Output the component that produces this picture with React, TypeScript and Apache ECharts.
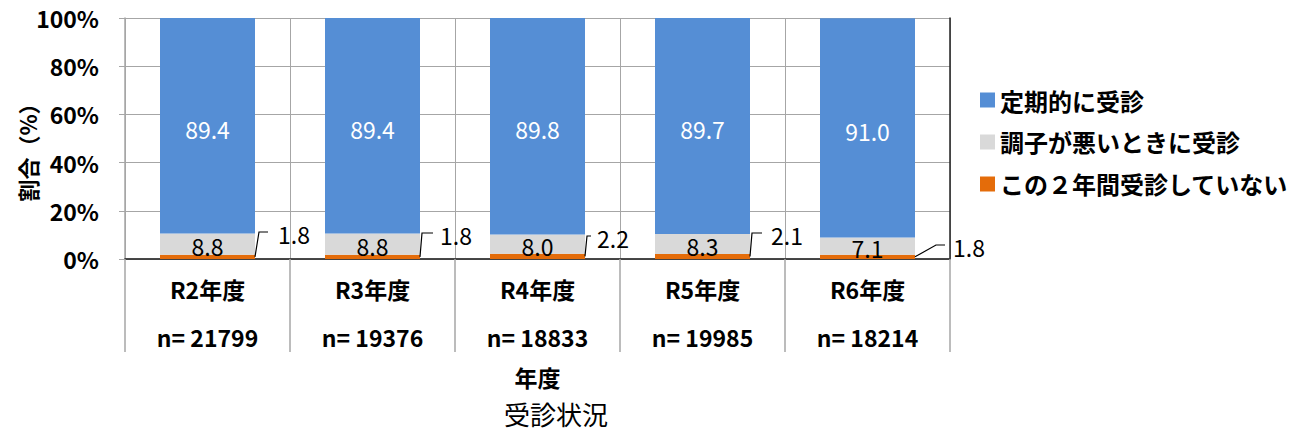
import React, { useEffect, useRef } from "react";
import * as echarts from "echarts";

const categories = ["R2年度", "R3年度", "R4年度", "R5年度", "R6年度"];
const nValues = [21799, 19376, 18833, 19985, 18214];
const regularValues = [89.4, 89.4, 89.8, 89.7, 91.0];
const unwellValues = [8.8, 8.8, 8.0, 8.3, 7.1];
const noVisitValues = [1.8, 1.8, 2.2, 2.1, 1.8];
const seriesNames = ["定期的に受診", "調子が悪いときに受診", "この２年間受診していない"];
const yTicks = [0, 20, 40, 60, 80, 100];
const yAxisTitle = "割合（%）";

// leader-line geometry (pixels): [bendDx, rise, endDx, textDx]
const leaderGeom = [
  [4, 27, 13, 23],
  [2, 26, 13, 20],
  [2, 23, 6, 12],
  [2, 26, 12, 21],
  [21, 14, 30, 38],
];

const FONT = '"Noto Sans CJK JP", "Noto Sans", sans-serif';
const BAR_W = 95;

export default function App() {
  const ref = useRef<HTMLDivElement>(null);
  useEffect(() => {
    if (!ref.current) return;
    const chart = echarts.init(ref.current, null, { renderer: "svg" });
    const gridGray = "#a6a6a6";
    chart.setOption({
      animation: false,
      textStyle: { fontFamily: FONT, color: "#000" },
      title: {
        text: "受診状況",
        left: 551,
        top: 395,
        textAlign: "center",
        textStyle: { fontFamily: FONT, fontSize: 26, fontWeight: "normal", color: "#000" },
      },
      graphic: [
        {
          type: "text",
          x: 27,
          y: 147,
          rotation: Math.PI / 2,
          style: {
            text: yAxisTitle,
            fill: "#000",
            fontFamily: FONT,
            fontSize: 22,
            fontWeight: "bold",
            align: "center",
            verticalAlign: "middle",
          },
        },
      ],
      legend: {
        orient: "vertical",
        left: 975,
        top: 83,
        itemWidth: 15,
        itemHeight: 15,
        itemGap: 18,
        icon: "rect",
        data: seriesNames,
        textStyle: { fontFamily: FONT, fontSize: 24, fontWeight: "bold", color: "#000" },
      },
      grid: { left: 125, right: 345, top: 18, bottom: 173, containLabel: false, outerBoundsMode: "none" },
      xAxis: [
        {
          type: "category",
          data: categories,
          name: "年度",
          nameLocation: "middle",
          nameGap: 106,
          nameTextStyle: { fontFamily: FONT, fontSize: 23, fontWeight: "bold", color: "#000" },
          axisLine: { lineStyle: { color: gridGray, width: 1.5 } },
          axisTick: { show: true, length: 93, alignWithLabel: false, interval: 0, lineStyle: { color: gridGray, width: 1.5 } },
          splitLine: { show: true, interval: 0, lineStyle: { color: gridGray, width: 1 } },
          axisLabel: {
            interval: 0,
            margin: 18,
            fontFamily: FONT,
            fontSize: 23,
            fontWeight: "bold",
            lineHeight: 24,
            color: "#000",
            formatter: (v: string, i: number) => `${v}\n\nn= ${nValues[i]}`,
          },
        },
        {
          type: "category",
          data: categories,
          position: "top",
          axisLine: { show: true, lineStyle: { color: "#222", width: 1.5 } },
          axisTick: { show: false },
          axisLabel: { show: false },
          splitLine: { show: false },
        },
      ],
      yAxis: [
        {
          type: "value",
          min: yTicks[0],
          max: yTicks[yTicks.length - 1],
          interval: 20,
          axisLine: { show: true, lineStyle: { color: gridGray, width: 1.5 } },
          axisTick: { show: true, length: 6, lineStyle: { color: gridGray } },
          splitLine: { show: true, lineStyle: { color: gridGray, width: 1 } },
          axisLabel: {
            margin: 26,
            fontFamily: FONT,
            fontSize: 23,
            fontWeight: "bold",
            color: "#000",
            formatter: "{value}%",
          },
        },
        {
          type: "value",
          min: 0,
          max: 100,
          interval: 20,
          position: "right",
          axisLine: { show: true, lineStyle: { color: "#222", width: 1.5 } },
          axisTick: { show: false },
          axisLabel: { show: false },
          splitLine: { show: false },
        },
      ],
      series: [
        {
          name: seriesNames[2],
          type: "bar",
          stack: "total",
          barWidth: BAR_W,
          itemStyle: { color: "#e46c0a" },
          data: noVisitValues,
        },
        {
          name: seriesNames[1],
          type: "bar",
          stack: "total",
          barWidth: BAR_W,
          itemStyle: { color: "#d9d9d9" },
          label: {
            show: true,
            position: "inside",
            offset: [0, 2],
            fontFamily: FONT,
            fontSize: 23,
            color: "#000",
            formatter: (p: any) => Number(p.value).toFixed(1),
          },
          data: unwellValues,
        },
        {
          name: seriesNames[0],
          type: "bar",
          stack: "total",
          barWidth: BAR_W,
          itemStyle: { color: "#558ed5" },
          label: {
            show: true,
            position: "inside",
            offset: [0, 3],
            fontFamily: FONT,
            fontSize: 23,
            color: "#fff",
            formatter: (p: any) => Number(p.value).toFixed(1),
          },
          data: regularValues,
        },
        {
          type: "custom",
          name: "leader",
          z: 10,
          clip: false,
          silent: true,
          encode: { x: 0, y: 1 },
          data: noVisitValues.map((v, i) => [i, v]),
          renderItem: (params: any, api: any) => {
            const i = api.value(0);
            const v = api.value(1);
            const base = api.coord([i, 0]);
            const mid = api.coord([i, v / 2]);
            const right = base[0] + BAR_W / 2;
            const [bendDx, rise, endDx, textDx] = leaderGeom[i];
            const yb = base[1] - rise;
            return {
              type: "group",
              children: [
                {
                  type: "polyline",
                  shape: { points: [[right, mid[1]], [right + bendDx, yb], [right + endDx, yb]] },
                  style: { stroke: "#000", lineWidth: 1.2, fill: null },
                },
                {
                  type: "text",
                  x: right + textDx,
                  y: yb + 2,
                  style: {
                    text: Number(v).toFixed(1),
                    fill: "#000",
                    fontSize: 23,
                    fontFamily: FONT,
                    align: "left",
                    verticalAlign: "middle",
                  },
                },
              ],
            };
          },
        },
      ],
    });
    return () => chart.dispose();
  }, []);
  return (
    <div
      ref={ref}
      style={{ position: "fixed", left: 0, top: 0, width: 1295, height: 432, background: "#fff" }}
    />
  );
}
